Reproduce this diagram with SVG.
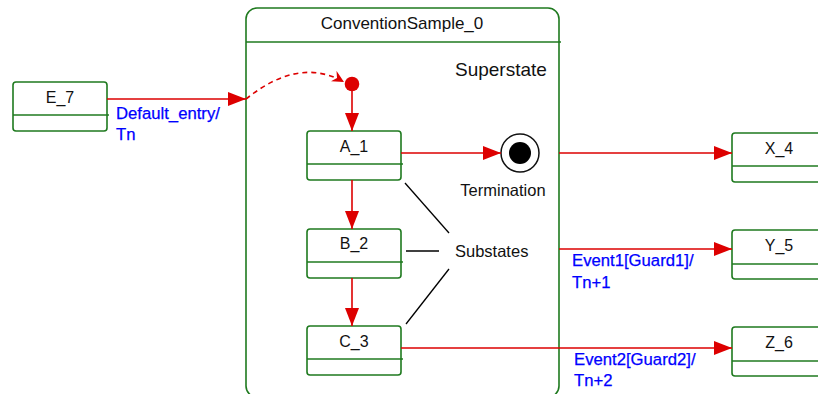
<svg xmlns="http://www.w3.org/2000/svg" width="818" height="394" viewBox="0 0 818 394">
<style>
.box{fill:#fff;stroke:#1f7a1f;stroke-width:1.6}
.div{stroke:#1f7a1f;stroke-width:1.6}
.lbl{font-family:"Liberation Sans",Arial,sans-serif;font-size:16px;fill:#111;text-anchor:middle}
.txt{font-family:"Liberation Sans",Arial,sans-serif;fill:#111}
.blue{font-family:"Liberation Sans",Arial,sans-serif;font-size:16.7px;fill:#0000ff;stroke:#0000ff;stroke-width:0.25}
.tr{stroke:#dd0000;stroke-width:1.6;fill:none}
.note{stroke:#000;stroke-width:1.3}
</style>
<defs>
<marker id="ah" markerUnits="userSpaceOnUse" markerWidth="19" markerHeight="14" refX="18" refY="7" orient="auto">
<path d="M0,0 L18,7 L0,14 Z" fill="#dd0000"/>
</marker>
<marker id="ah2" markerUnits="userSpaceOnUse" markerWidth="14" markerHeight="12" refX="12" refY="6" orient="auto">
<path d="M0,0 L12,6 L0,12 L4,6 Z" fill="#dd0000"/>
</marker>
</defs>
<g id="ConventionSample_0">
<rect class="box" x="246" y="8" width="313" height="389" rx="11"/>
<line class="div" x1="246" y1="42" x2="561" y2="42"/>
<text class="lbl" x="402" y="29" style="font-size:17px">ConventionSample_0</text>
<text class="txt" x="455" y="76" style="font-size:19px">Superstate</text>
</g>
<g id="E_7">
<rect class="box" x="13" y="82" width="94" height="49" rx="3"/>
<line class="div" x1="13" y1="115" x2="109" y2="115"/>
<text class="lbl" x="60" y="103">E_7</text>
</g>
<g id="A_1">
<rect class="box" x="307" y="131" width="94" height="49" rx="3"/>
<line class="div" x1="307" y1="164" x2="403" y2="164"/>
<text class="lbl" x="354" y="152">A_1</text>
</g>
<g id="B_2">
<rect class="box" x="307" y="229" width="94" height="49" rx="3"/>
<line class="div" x1="307" y1="262" x2="403" y2="262"/>
<text class="lbl" x="354" y="249">B_2</text>
</g>
<g id="C_3">
<rect class="box" x="307" y="326" width="94" height="49" rx="3"/>
<line class="div" x1="307" y1="359" x2="403" y2="359"/>
<text class="lbl" x="354" y="347">C_3</text>
</g>
<g id="X_4">
<rect class="box" x="732" y="133" width="94" height="49" rx="3"/>
<line class="div" x1="732" y1="166" x2="828" y2="166"/>
<text class="lbl" x="779" y="154">X_4</text>
</g>
<g id="Y_5">
<rect class="box" x="732" y="230" width="94" height="49" rx="3"/>
<line class="div" x1="732" y1="264" x2="828" y2="264"/>
<text class="lbl" x="779" y="251">Y_5</text>
</g>
<g id="Z_6">
<rect class="box" x="732" y="327" width="94" height="49" rx="3"/>
<line class="div" x1="732" y1="361" x2="828" y2="361"/>
<text class="lbl" x="779" y="348">Z_6</text>
</g>
<g id="initial">
<circle cx="352" cy="84" r="7.3" fill="#dd0000"/>
</g>
<g id="Termination">
<circle cx="520" cy="153" r="19" fill="#fff" stroke="#111" stroke-width="1.5"/>
<circle cx="520" cy="153" r="11" fill="#000"/>
<text class="txt" x="503" y="196" style="font-size:16.5px;text-anchor:middle">Termination</text>
</g>
<g id="Substates">
<text class="txt" x="455" y="257" style="font-size:16.5px">Substates</text>
</g>
<g id="connectors">
<line class="tr" x1="107" y1="99" x2="246" y2="99" marker-end="url(#ah)"/>
<path class="tr" d="M246,99 C270,80 305,60 344,82" stroke-dasharray="5,4" marker-end="url(#ah2)"/>
<line class="tr" x1="352" y1="91" x2="352" y2="131" marker-end="url(#ah)"/>
<line class="tr" x1="352" y1="180" x2="352" y2="229" marker-end="url(#ah)"/>
<line class="tr" x1="352" y1="278" x2="352" y2="326" marker-end="url(#ah)"/>
<line class="tr" x1="401" y1="153" x2="501" y2="153" marker-end="url(#ah)"/>
<line class="tr" x1="559" y1="153" x2="732" y2="153" marker-end="url(#ah)"/>
<line class="tr" x1="559" y1="249" x2="732" y2="249" marker-end="url(#ah)"/>
<line class="tr" x1="401" y1="348" x2="732" y2="348" marker-end="url(#ah)"/>
<line class="note" x1="405" y1="183" x2="449" y2="233"/>
<line class="note" x1="406" y1="251" x2="439" y2="251"/>
<line class="note" x1="406" y1="324" x2="449" y2="269"/>
<text class="blue" x="116" y="119">Default_entry/</text>
<text class="blue" x="116" y="140">Tn</text>
<text class="blue" x="572" y="266">Event1[Guard1]/</text>
<text class="blue" x="572" y="288">Tn+1</text>
<text class="blue" x="574" y="365">Event2[Guard2]/</text>
<text class="blue" x="574" y="386">Tn+2</text>
</g>
</svg>
